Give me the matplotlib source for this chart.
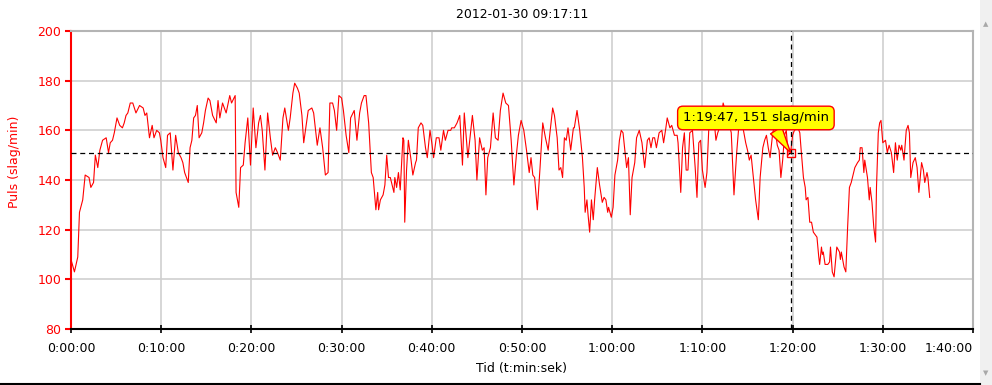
import matplotlib
matplotlib.use("Agg")
import matplotlib.pyplot as plt
from matplotlib.patches import Rectangle
from matplotlib.lines import Line2D

# Tid i minutter och puls (slag/min)
tid_0 = [0.0, 0.38, 0.75, 0.94, 1.3, 1.57, 2.0, 2.2, 2.5, 2.7, 2.97, 3.2, 3.5, 3.9, 4.16,
         4.35, 4.6, 4.8, 5.1, 5.4, 5.7, 5.9, 6.1, 6.3, 6.57, 6.85, 7.2, 7.6, 8.0, 8.2, 8.4,
         8.7, 9.0, 9.2, 9.5, 9.8, 9.95, 10.2, 10.5, 10.7, 11.0, 11.3, 11.6, 11.9, 12.2,
         12.4, 12.6, 13.0, 13.2, 13.4, 13.6, 13.8, 14.0, 14.2, 14.5, 14.7, 14.9, 15.2,
         15.4, 15.7, 16.1, 16.3, 16.5, 16.8, 17.2, 17.6, 17.8, 18.2, 18.3, 18.6, 18.8,
         19.1, 19.3, 19.6]
puls_0 = [108, 103, 109, 127, 132, 142, 141, 137, 139, 150, 145, 152, 156, 157, 151,
          155, 156, 159, 165, 162, 161, 163, 166, 167, 171, 171, 167, 170, 169, 166, 167,
          157, 162, 157, 160, 159, 156, 149, 145, 158, 159, 144, 158, 151, 149,
          147, 143, 139, 153, 156, 165, 166, 170, 157, 159, 163, 168, 173,
          172, 166, 163, 172, 165, 171, 167, 174, 171, 174, 135, 129, 145,
          146, 155, 165]

tid_1 = [19.9, 20.2, 20.5, 20.8, 21.0, 21.2, 21.5, 21.8, 22.1, 22.35, 22.65, 22.9, 23.2,
         23.5, 23.7, 24.1, 24.3, 24.6, 24.8, 25.1, 25.3, 25.6, 25.8, 26.3, 26.7, 26.9,
         27.3, 27.6, 27.9, 28.2, 28.5, 28.7, 29.0, 29.2, 29.45, 29.7, 30.0, 30.2, 30.5,
         30.8, 31.0, 31.4, 31.7, 32.0, 32.2, 32.5, 32.7, 33.0, 33.3, 33.5, 33.8, 34.0,
         34.1, 34.3, 34.6, 34.8, 35.0, 35.2, 35.4, 35.8, 35.9, 36.1, 36.3, 36.5, 36.8,
         36.9, 37.0, 37.2, 37.4, 37.7, 37.9, 38.2, 38.3, 38.5, 38.8]
puls_1 = [146, 169, 153, 163, 166, 160, 144, 167, 157, 150, 153, 151, 148,
          165, 169, 160, 165, 175, 179, 177, 175, 166, 155, 168, 169, 167,
          154, 161, 153, 142, 143, 171, 171, 168, 160, 174, 173, 168, 158,
          151, 165, 168, 156, 167, 171, 174, 174, 163, 143, 141, 128, 135,
          128, 132, 134, 138, 150, 141, 141, 135, 141, 137, 143, 136, 157,
          156, 123, 144, 156, 148, 142, 147, 148, 161, 163]

tid_2 = [39.0, 39.3, 39.5, 39.8, 40.0, 40.2, 40.5, 40.8, 41.0, 41.3, 41.5, 41.8, 42.1,
         42.2, 42.5, 42.8, 43.1, 43.4, 43.6, 44.0, 44.3, 44.5, 44.8, 45.0, 45.3, 45.6,
         45.8, 46.0, 46.2, 46.5, 46.8, 47.05, 47.35, 47.6, 47.9, 48.2, 48.5, 48.8, 49.1,
         49.4, 49.6, 49.9, 50.2, 50.5, 50.8, 51.0, 51.2, 51.4, 51.7, 52.0, 52.3, 52.6,
         52.9, 53.1, 53.4, 53.6, 53.9, 54.1, 54.3, 54.5, 54.7, 54.9, 55.1, 55.4, 55.7,
         55.8, 56.1, 56.4, 56.7, 56.9, 57.0, 57.2, 57.3, 57.5, 57.7, 57.9, 58.05, 58.35,
         58.6, 58.9, 59.1, 59.3, 59.5, 59.6, 59.9]
puls_2 = [162, 153, 149, 160, 155, 149, 157, 157, 152, 160, 156, 160, 160,
          161, 161, 163, 166, 146, 167, 149, 159, 166, 156, 140, 157, 152,
          153, 134, 149, 153, 167, 157, 156, 168, 175, 171, 170, 156, 138,
          151, 158, 164, 160, 152, 143, 149, 142, 141, 128, 145, 163, 157,
          152, 159, 169, 166, 157, 144, 145, 141, 157, 156, 161, 152, 161,
          161, 168, 160, 149, 137, 127, 132, 127, 119, 132, 124, 132, 145,
          138, 131, 133, 132, 127, 129, 125]

tid_3 = [60.1, 60.3, 60.6, 60.8, 61.0, 61.2, 61.4, 61.6, 61.8, 62.0, 62.2, 62.5, 62.7,
         63.0, 63.3, 63.6, 63.9, 64.1, 64.3, 64.5, 64.7, 64.9, 65.2, 65.5, 65.7, 65.95,
         66.1, 66.4, 66.6, 66.9, 67.2, 67.3, 67.6, 67.8, 68.0, 68.2, 68.4, 68.6, 68.9,
         69.2, 69.4, 69.6, 69.8, 70.0, 70.3, 70.5, 70.7, 71.0, 71.3, 71.5, 71.7, 72.0,
         72.3, 72.6, 72.8, 73.2, 73.5, 73.8, 74.0, 74.2, 74.5, 74.8, 75.0, 75.2, 75.4,
         75.7, 75.9, 76.2, 76.4, 76.7, 76.9, 77.1, 77.3, 77.5, 77.8, 78.0, 78.3, 78.5,
         78.7, 78.9, 79.1, 79.3, 79.5, 79.78, 80.0]
puls_3 = [129, 142, 148, 156, 160, 159, 152, 145, 149, 126, 141, 147, 157,
          160, 155, 145, 156, 157, 153, 157, 157, 153, 159, 160, 155, 161,
          165, 161, 162, 158, 158, 155, 135, 153, 159, 144, 144, 159, 160,
          145, 133, 155, 156, 144, 137, 143, 160, 167, 164, 156, 159, 162,
          171, 167, 165, 159, 134, 151, 160, 163, 161, 155, 152, 148, 150,
          139, 132, 124, 141, 153, 156, 158, 153, 149, 159, 162, 154, 152,
          141, 148, 158, 160, 150, 151, 158]

tid_4 = [80.2, 80.6, 80.8, 80.95, 81.2, 81.4, 81.5, 81.7, 81.9, 82.1, 82.3, 82.5, 82.7,
         82.9, 83.0, 83.2, 83.3, 83.4, 83.6, 83.9, 84.1, 84.2, 84.4, 84.6, 84.8, 84.9,
         85.2, 85.3, 85.4, 85.7, 85.9, 86.1, 86.3, 86.5, 86.7, 86.9, 87.2, 87.4, 87.5,
         87.7, 87.9, 88.0, 88.3, 88.5, 88.6, 88.8, 89.0, 89.2, 89.3, 89.5, 89.65, 89.8,
         90.0, 90.3, 90.5, 90.7, 90.95, 91.2, 91.4, 91.6, 91.8, 92.0, 92.1, 92.35, 92.6,
         92.8, 92.95, 93.1, 93.35, 93.6, 93.8, 94.0, 94.3, 94.5, 94.65, 94.9, 95.0, 95.2]
puls_4 = [160, 161, 159, 152, 141, 137, 132, 133, 123, 123, 119, 118, 117,
          109, 106, 113, 110, 111, 106, 106, 107, 113, 103, 101, 109, 113,
          111, 108, 111, 105, 103, 121, 137, 139, 142, 145, 147, 148, 153,
          153, 143, 148, 141, 132, 137, 131, 121, 115, 137, 159, 163, 164,
          155, 156, 151, 154, 151, 143, 155, 148, 154, 152, 154, 148, 160,
          162, 159, 141, 147, 149, 145, 135, 147, 144, 139, 143, 141, 133]

tid = tid_0 + tid_1 + tid_2 + tid_3 + tid_4
puls = puls_0 + puls_1 + puls_2 + puls_3 + puls_4

medel = 151            # medelpuls (streckad linje)
markor_tid = 79.78     # 1:19:47
markor_puls = 151
markor_text = "1:19:47, 151 slag/min"

x_ticks = [0, 10, 20, 30, 40, 50, 60, 70, 80, 90, 100]
x_labels = ["0:00:00", "0:10:00", "0:20:00", "0:30:00", "0:40:00", "0:50:00",
            "1:00:00", "1:10:00", "1:20:00", "1:30:00", "1:40:00"]
y_ticks = [80, 100, 120, 140, 160, 180, 200]

fig = plt.figure(figsize=(9.92, 3.85), dpi=100)
ax = fig.add_axes([71 / 992, 56 / 385, 902 / 992, 298 / 385])

ax.set_xlim(0, 100)
ax.set_ylim(80, 200)
ax.grid(True, color="#cfcfcf", lw=1.2)
ax.set_axisbelow(True)

ax.plot(tid, puls, color="#ff0000", lw=0.8, zorder=3)
ax.axhline(medel, color="black", lw=0.9, dashes=(4, 3), zorder=4)
ax.axvline(markor_tid, color="black", lw=0.9, dashes=(4, 3), zorder=4)
ax.plot([markor_tid], [markor_puls], marker="s", ms=6, mfc="none", mec="red",
        mew=1, zorder=6)

ax.annotate(markor_text, xy=(markor_tid, markor_puls), xytext=(-25, 25),
            textcoords="offset points", ha="center", va="center", fontsize=9.5,
            bbox=dict(boxstyle="round,pad=0.4,rounding_size=0.4", fc="#ffff00",
                      ec="red", lw=1),
            arrowprops=dict(arrowstyle="wedge,tail_width=1.0", fc="#ffff00", ec="red",
                            lw=1, relpos=(0.61, 0.05), shrinkA=0, shrinkB=0),
            zorder=7)

ax.set_xticks(x_ticks)
ax.set_xticklabels(x_labels)
ax.get_xticklabels()[-1].set_ha("right")
ax.set_yticks(y_ticks)

for s in ["top", "right"]:
    ax.spines[s].set_color("#b4b4b4")
    ax.spines[s].set_linewidth(1.5)
ax.spines["left"].set_color("red")
ax.spines["left"].set_linewidth(1.5)
ax.spines["bottom"].set_color("black")
ax.spines["bottom"].set_linewidth(1.5)

ax.tick_params(axis="y", colors="red", labelsize=9, length=4, width=1.5, pad=3)
ax.tick_params(axis="x", colors="black", labelsize=9, length=6, width=1.2,
               direction="inout", pad=6)

ax.set_ylabel("Puls (slag/min)", color="red", fontsize=9)
ax.yaxis.set_label_coords(-0.055, 0.56)
ax.set_xlabel("Tid (t:min:sek)", fontsize=9)
ax.xaxis.set_label_coords(0.5, -0.11)
ax.text(0.5, 1.054, "2012-01-30 09:17:11", transform=ax.transAxes, ha="center",
        va="center", fontsize=9)

# rullningslist och ramlinje som i skärmbilden
fig.add_artist(Rectangle((980 / 992, 0), 12 / 992, 1, transform=fig.transFigure,
                         color="#f0f0f0", lw=0))
fig.text(986 / 992, 1 - 24 / 385, "\u25b2", color="#a8a8a8", fontsize=5,
         ha="center", va="center")
fig.text(986 / 992, 12 / 385, "\u25bc", color="#a8a8a8", fontsize=5,
         ha="center", va="center")
fig.add_artist(Line2D([0, 980 / 992], [1.5 / 385, 1.5 / 385], transform=fig.transFigure,
                      color="black", lw=1.5))

fig.savefig("out.png", dpi=100)
